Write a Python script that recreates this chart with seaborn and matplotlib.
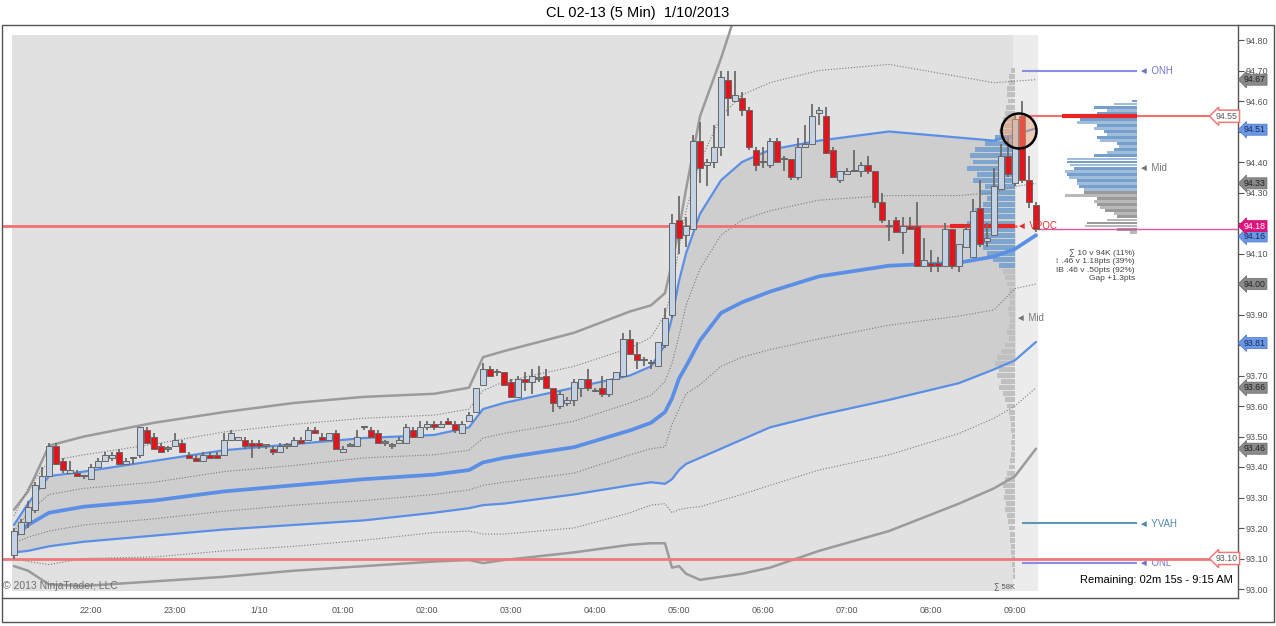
import numpy as np
import seaborn as sns
import matplotlib.pyplot as plt
from matplotlib.patches import Ellipse, Rectangle

sns.set_style('white')
plt.rcParams['font.family'] = ['Liberation Sans', 'DejaVu Sans']

W, H = 1276, 626

# --- time axis (5 min bars, bar 0 = 21:05) ---
hour_bars = [11, 23, 35, 47, 59, 71, 83, 95, 107, 119, 131, 143]
hour_labels = ['22:00', '23:00', '1/10', '01:00', '02:00', '03:00',
               '04:00', '05:00', '06:00', '07:00', '08:00', '09:00']

# --- OHLC ---
opens = [93.11, 93.18, 93.22, 93.26, 93.33, 93.37, 93.47, 93.42, 93.38, 93.38,
         93.37, 93.36, 93.40, 93.42, 93.43, 93.45, 93.41, 93.43, 93.44, 93.52,
         93.50, 93.47, 93.46, 93.47, 93.48, 93.44, 93.43, 93.42, 93.44, 93.44,
         93.44, 93.49, 93.49, 93.49, 93.48, 93.48, 93.47, 93.46, 93.45, 93.47,
         93.47, 93.49, 93.49, 93.52, 93.50, 93.49, 93.51, 93.45, 93.47, 93.47,
         93.53, 93.52, 93.51, 93.48, 93.47, 93.48, 93.48, 93.52, 93.50, 93.53,
         93.54, 93.53, 93.55, 93.54, 93.51, 93.55, 93.58, 93.67, 93.72, 93.71,
         93.71, 93.68, 93.63, 93.69, 93.68, 93.69, 93.70, 93.66, 93.60, 93.61,
         93.62, 93.66, 93.69, 93.65, 93.66, 93.64, 93.69, 93.70, 93.82, 93.77,
         93.75, 93.74, 93.73, 93.80, 93.90, 94.21, 94.16, 94.18, 94.47, 94.39,
         94.40, 94.45, 94.67, 94.60, 94.61, 94.57, 94.44, 94.40, 94.39, 94.47,
         94.41, 94.41, 94.35, 94.45, 94.46, 94.56, 94.55, 94.44, 94.34, 94.36,
         94.37, 94.37, 94.39, 94.37, 94.27, 94.19, 94.21, 94.17, 94.19, 94.19,
         94.06, 94.07, 94.07, 94.06, 94.18, 94.06, 94.12, 94.09, 94.25, 94.14,
         94.16, 94.31, 94.42, 94.33, 94.55, 94.34, 94.26]
highs = [93.20, 93.23, 93.29, 93.35, 93.40, 93.48, 93.48, 93.43, 93.42, 93.39,
         93.37, 93.41, 93.43, 93.45, 93.45, 93.46, 93.43, 93.43, 93.53, 93.53,
         93.51, 93.48, 93.47, 93.51, 93.49, 93.45, 93.44, 93.45, 93.45, 93.45,
         93.51, 93.52, 93.50, 93.50, 93.49, 93.49, 93.47, 93.47, 93.48, 93.48,
         93.50, 93.50, 93.53, 93.53, 93.51, 93.51, 93.52, 93.47, 93.48, 93.52,
         93.53, 93.53, 93.52, 93.49, 93.48, 93.50, 93.54, 93.53, 93.55, 93.55,
         93.55, 93.55, 93.56, 93.55, 93.55, 93.58, 93.66, 93.74, 93.73, 93.72,
         93.71, 93.69, 93.70, 93.71, 93.72, 93.73, 93.72, 93.66, 93.65, 93.63,
         93.69, 93.69, 93.72, 93.66, 93.70, 93.69, 93.71, 93.84, 93.85, 93.81,
         93.76, 93.75, 93.81, 93.92, 94.23, 94.29, 94.22, 94.49, 94.53, 94.41,
         94.52, 94.70, 94.70, 94.70, 94.63, 94.58, 94.45, 94.45, 94.48, 94.48,
         94.42, 94.41, 94.48, 94.52, 94.59, 94.58, 94.58, 94.45, 94.37, 94.38,
         94.44, 94.40, 94.42, 94.37, 94.30, 94.21, 94.22, 94.22, 94.22, 94.27,
         94.15, 94.11, 94.09, 94.20, 94.18, 94.13, 94.19, 94.28, 94.34, 94.20,
         94.38, 94.46, 94.48, 94.56, 94.60, 94.42, 94.27]
lows = [93.10, 93.18, 93.20, 93.25, 93.33, 93.37, 93.41, 93.38, 93.38, 93.37,
        93.36, 93.36, 93.40, 93.42, 93.42, 93.41, 93.41, 93.41, 93.43, 93.48,
        93.46, 93.45, 93.45, 93.47, 93.45, 93.43, 93.42, 93.42, 93.43, 93.43,
        93.44, 93.49, 93.49, 93.46, 93.43, 93.46, 93.46, 93.44, 93.45, 93.46,
        93.47, 93.48, 93.49, 93.51, 93.49, 93.49, 93.46, 93.45, 93.47, 93.47,
        93.52, 93.50, 93.48, 93.47, 93.46, 93.48, 93.48, 93.50, 93.50, 93.52,
        93.52, 93.53, 93.54, 93.51, 93.51, 93.55, 93.58, 93.67, 93.70, 93.70,
        93.67, 93.63, 93.63, 93.65, 93.64, 93.68, 93.66, 93.58, 93.59, 93.60,
        93.60, 93.63, 93.65, 93.65, 93.63, 93.63, 93.69, 93.70, 93.77, 93.72,
        93.73, 93.72, 93.73, 93.79, 93.89, 94.10, 94.12, 94.18, 94.33, 94.32,
        94.38, 94.42, 94.55, 94.60, 94.55, 94.44, 94.37, 94.38, 94.38, 94.40,
        94.37, 94.34, 94.34, 94.45, 94.46, 94.52, 94.43, 94.35, 94.33, 94.36,
        94.37, 94.35, 94.36, 94.25, 94.20, 94.14, 94.17, 94.10, 94.18, 94.06,
        94.06, 94.04, 94.04, 94.06, 94.05, 94.04, 94.12, 94.09, 94.12, 94.12,
        94.16, 94.31, 94.35, 94.32, 94.33, 94.25, 94.17]
closes = [93.19, 93.22, 93.27, 93.34, 93.37, 93.47, 93.41, 93.39, 93.39, 93.37,
          93.37, 93.40, 93.42, 93.44, 93.44, 93.41, 93.42, 93.43, 93.53, 93.48,
          93.46, 93.45, 93.46, 93.49, 93.45, 93.43, 93.42, 93.44, 93.43, 93.43,
          93.49, 93.51, 93.50, 93.47, 93.47, 93.47, 93.47, 93.45, 93.47, 93.47,
          93.49, 93.48, 93.52, 93.51, 93.49, 93.51, 93.46, 93.46, 93.47, 93.50,
          93.53, 93.50, 93.48, 93.48, 93.47, 93.49, 93.53, 93.50, 93.53, 93.54,
          93.53, 93.54, 93.54, 93.52, 93.54, 93.57, 93.66, 93.72, 93.70, 93.71,
          93.67, 93.63, 93.69, 93.68, 93.70, 93.69, 93.66, 93.61, 93.64, 93.62,
          93.68, 93.69, 93.66, 93.65, 93.64, 93.69, 93.71, 93.82, 93.77, 93.75,
          93.75, 93.74, 93.81, 93.89, 94.20, 94.15, 94.19, 94.47, 94.38, 94.40,
          94.45, 94.68, 94.61, 94.62, 94.57, 94.45, 94.39, 94.40, 94.47, 94.40,
          94.41, 94.35, 94.45, 94.46, 94.55, 94.57, 94.43, 94.35, 94.37, 94.37,
          94.37, 94.39, 94.37, 94.27, 94.21, 94.19, 94.17, 94.19, 94.18, 94.06,
          94.08, 94.06, 94.06, 94.18, 94.06, 94.13, 94.18, 94.24, 94.13, 94.15,
          94.32, 94.42, 94.36, 94.54, 94.34, 94.27, 94.18]

# --- VWAP and bands, read at these bars ---
knot_bars = [0, 2, 5, 10, 20, 30, 40, 50, 60, 65, 67, 70, 80, 88, 91, 93, 94,
             95, 96, 98, 101, 104, 108, 115, 125, 135, 140, 143, 146]
vwap = [93.17, 93.21, 93.25, 93.27, 93.29, 93.32, 93.34, 93.36, 93.375, 93.39,
        93.415, 93.43, 93.465, 93.52, 93.545, 93.58, 93.625, 93.69, 93.73, 93.815,
        93.905, 93.94, 93.975, 94.025, 94.06, 94.07, 94.09, 94.115, 94.16]
upper1 = [93.21, 93.28, 93.37, 93.385, 93.42, 93.455, 93.475, 93.495, 93.505, 93.53,
          93.59, 93.61, 93.66, 93.70, 93.73, 93.80, 93.89, 94.01, 94.10, 94.23,
          94.34, 94.40, 94.44, 94.47, 94.50, 94.48, 94.47, 94.49, 94.51]
lower1 = [93.12, 93.125, 93.14, 93.155, 93.175, 93.195, 93.21, 93.225, 93.25, 93.265,
          93.275, 93.28, 93.31, 93.34, 93.35, 93.345, 93.36, 93.39, 93.41, 93.43,
          93.46, 93.49, 93.53, 93.57, 93.62, 93.675, 93.72, 93.75, 93.81]
half_up = [93.19, 93.25, 93.31, 93.33, 93.35, 93.385, 93.405, 93.43, 93.44, 93.455,
           93.495, 93.51, 93.55, 93.61, 93.635, 93.68, 93.74, 93.83, 93.93, 94.05,
           94.16, 94.21, 94.24, 94.275, 94.29, 94.29, 94.30, 94.32, 94.33]
half_dn = [93.15, 93.17, 93.19, 93.21, 93.23, 93.255, 93.275, 93.29, 93.31, 93.325,
           93.34, 93.35, 93.38, 93.44, 93.46, 93.466, 93.54, 93.59, 93.64, 93.67,
           93.73, 93.76, 93.785, 93.82, 93.865, 93.895, 93.915, 93.985, 94.00]
outer_up = [93.24, 93.33, 93.42, 93.44, 93.475, 93.515, 93.54, 93.56, 93.57, 93.59,
            93.65, 93.68, 93.73, 93.79, 93.825, 93.90, 93.98, 94.12, 94.24, 94.40,
            94.55, 94.62, 94.66, 94.70, 94.72, 94.68, 94.66, 94.665, 94.67]
outer_dn = [93.10, 93.09, 93.08, 93.10, 93.105, 93.125, 93.14, 93.16, 93.185, 93.19,
            93.18, 93.18, 93.20, 93.25, 93.275, 93.28, 93.25, 93.26, 93.265, 93.27,
            93.29, 93.31, 93.34, 93.39, 93.44, 93.51, 93.56, 93.60, 93.66]
edge_up = [93.26, 93.32, 93.47, 93.50, 93.545, 93.58, 93.61, 93.63, 93.64, 93.66,
           93.76, 93.78, 93.84, 93.91, 93.93, 93.97, 94.07, 94.18, 94.31, 94.55,
           94.74, 94.95, 95.05, 95.10, 95.10, 95.05, 95.00, 94.95, 94.86]
edge_dn = [93.075, 93.06, 93.015, 93.01, 93.025, 93.04, 93.06, 93.075, 93.09, 93.095,
           93.085, 93.095, 93.12, 93.145, 93.15, 93.15, 93.07, 93.075, 93.05, 93.03,
           93.04, 93.05, 93.07, 93.125, 93.19, 93.28, 93.33, 93.37, 93.46]

# --- volume profiles ---
on_top = 94.70          # overnight profile, 2 tick rows from the top
on_vols = [4, 6, 6, 8, 8, 7, 9, 10, 12, 14,
           16, 20, 30, 40, 45, 42, 48, 38, 42, 30,
           34, 28, 32, 40, 44, 48, 42, 36, 40, 32,
           28, 22, 16, 12, 10, 8, 6, 6, 5, 7,
           6, 5, 6, 8, 6, 10, 14, 18, 20, 16,
           18, 14, 16, 12, 10, 8, 6, 5, 4, 4,
           3, 4, 3, 4, 5, 6, 8, 10, 12, 10,
           11, 9, 10, 8, 7, 6, 5, 5, 4, 4,
           3, 3, 2, 2]
on_va = (94.06, 94.48)
day_top = 94.60         # day session profile, 1 tick rows
day_vols = [5, 23, 43, 30, 40, 75, 57, 60, 40, 43,
            33, 30, 40, 37, 20, 18, 23, 30, 43, 70,
            70, 67, 63, 72, 70, 68, 60, 60, 58, 53,
            53, 72, 40, 43, 40, 37, 32, 23, 20, 30,
            50, 52, 20, 7]
day_va_low = 94.31

# --- reference levels ---
onh, onl, yvah = 94.70, 93.085, 93.215
on_vpoc, day_poc, prior_lvl = 94.19, 94.55, 93.10
on_mid, day_mid = 93.89, 94.38
stats = ['∑ 10 v 94K (11%)', '↕ .46 v 1.18pts (39%)',
         'IB .46 v .50pts (92%)', 'Gap +1.3pts']


# pixel -> data helpers for layout
def bx(px):
    return (px - 14) / 7.0


def py(pix):
    return 93.0 + (589 - pix) / 305.0


fig = plt.figure(figsize=(W / 100, H / 100), dpi=100)
ax = fig.add_axes([2 / W, 1 - 598 / H, (1238 - 2) / W, (598 - 25) / H])
ax.set_xlim(bx(2), bx(1238))
ax.set_ylim(py(598), py(25))

# session shading
ymn, ymx = (598 - 591) / 573, (598 - 35) / 573
ax.axvspan(bx(12), bx(1013), ymin=ymn, ymax=ymx, color='#e1e1e1', lw=0, zorder=0)
ax.axvspan(bx(1013), bx(1038), ymin=ymn, ymax=ymx, color='#ececec', lw=0, zorder=0)

kb = np.array(knot_bars)
m = kb <= 143
ax.fill_between(kb[m], np.array(lower1)[m], np.array(upper1)[m],
                color='#cecece', lw=0, zorder=1)

# overnight profile
on_prices = on_top - 0.02 * np.arange(len(on_vols))
on_w = np.array(on_vols) / 7.0
on_cols = ['#7ea5ce' if on_va[0] - 1e-6 <= p <= on_va[1] + 1e-6 else '#c0c0c0'
           for p in on_prices]
ax.barh(on_prices, on_w, left=bx(1015) - on_w, height=0.016,
        color=on_cols, lw=0, zorder=2)

# day profile
day_prices = day_top - 0.01 * np.arange(len(day_vols))
day_w = np.array(day_vols) / 7.0
day_cols = []
for k, p in enumerate(day_prices):
    if p >= day_va_low - 1e-6:
        day_cols.append('#76a0cb' if k % 2 == 0 else '#a0bedc')
    else:
        day_cols.append('#9a9a9a' if k % 2 == 0 else '#b9b9b9')
ax.barh(day_prices, day_w, left=bx(1137) - day_w, height=0.0095,
        color=day_cols, lw=0, zorder=2)

# bands
dot = (0, (1, 1.6))
for vals, col, lw, ls in [(edge_up, '#9b9b9b', 1.8, '-'), (edge_dn, '#9b9b9b', 1.8, '-'),
                          (outer_up, '#7a7a7a', 0.8, dot), (outer_dn, '#7a7a7a', 0.8, dot),
                          (half_up, '#7a7a7a', 0.8, dot), (half_dn, '#7a7a7a', 0.8, dot),
                          (upper1, '#5b8fe6', 1.6, '-'), (lower1, '#5b8fe6', 1.6, '-'),
                          (vwap, '#5b8fe6', 2.7, '-')]:
    sns.lineplot(x=knot_bars, y=vals, ax=ax, color=col, lw=lw, linestyle=ls, zorder=3)

# horizontal levels
x0 = bx(2)
ax.hlines(on_vpoc, x0, bx(1017), color='#f07070', lw=2, zorder=3.5)
ax.hlines(on_vpoc, bx(950), bx(1015), color='#e82424', lw=3, zorder=3.6)
ax.hlines(prior_lvl, x0, bx(1212), color='#f07878', lw=2, zorder=3.5)
ax.hlines(day_poc, bx(1028), bx(1212), color='#f07070', lw=1.5, zorder=3.5)
ax.hlines(day_poc, bx(1062), bx(1137), color='#e82424', lw=3, zorder=3.6)
ax.hlines(closes[-1], bx(1037), bx(1238), color='#e0559f', lw=1, zorder=3.5)
ax.hlines([onh, onl], bx(1022), bx(1137), color='#8c8ce6', lw=1.5, zorder=3.5)
ax.hlines(yvah, bx(1022), bx(1137), color='#5f97b5', lw=1.5, zorder=3.5)

# candles
bars = np.arange(len(closes))
o, h, l, c = map(np.array, (opens, highs, lows, closes))
face = np.where(c > o, '#c3d3e5', np.where(c < o, '#e3141b', '#808080'))
ax.vlines(bars, l, h, color='#6b6b6b', lw=1.3, zorder=4)
ax.bar(bars, np.maximum(np.abs(c - o), 0.004), bottom=np.minimum(o, c), width=0.72,
       color=face, edgecolor='#666666', linewidth=0.7, zorder=5)

# highlight circle
ax.add_patch(Ellipse((bx(1019), py(131)), 35 / 7.0, 35 / 305.0,
                     fc=(0.93, 0.62, 0.45, 0.45), ec='black', lw=1.8, zorder=6))

# labels next to levels
ax.text(bx(1017), on_vpoc, '◄ VPOC', color='#e23030', fontsize=7, va='center', zorder=7)
ax.text(bx(1139), onh, '◄ ONH', color='#7373c9', fontsize=7, va='center')
ax.text(bx(1139), onl, '◄ ONL', color='#7373c9', fontsize=7, va='center')
ax.text(bx(1139), yvah, '◄ YVAH', color='#4f8aab', fontsize=7, va='center')
ax.text(bx(1139), day_mid, '◄ Mid', color='#777777', fontsize=7, va='center')
ax.text(bx(1016), on_mid, '◄ Mid', color='#777777', fontsize=7, va='center')
ax.text(bx(1135), py(249), '\n'.join(stats), ha='right', va='top', fontsize=6,
        color='#444444', linespacing=1.3)
ax.text(bx(3), py(586), '© 2013 NinjaTrader, LLC', fontsize=7.5, color='#707070',
        va='center')
ax.text(bx(1015), py(587), '∑ 58K', fontsize=5.5, color='#555555', ha='right', va='center')
ax.text(bx(1233), py(580), 'Remaining: 02m 15s - 9:15 AM', fontsize=8, color='black',
        ha='right', va='center')

# price markers on the axis
gray_marks = [outer_up[-1], half_up[-1], half_dn[-1], outer_dn[-1], edge_dn[-1]]
blue_marks = [upper1[-1], vwap[-1], lower1[-1]]
for v in [day_poc, prior_lvl]:
    ax.text(bx(1227), v, f'{v:.2f}', fontsize=6.3, color='#555555', ha='center',
            va='center', zorder=8, clip_on=False,
            bbox=dict(boxstyle='larrow,pad=0.18', fc='white', ec='#f07878', lw=1.1))
for v in gray_marks:
    ax.text(bx(1244), v, f'{v:.2f}', fontsize=6.3, color='#222222', va='center',
            zorder=8, clip_on=False,
            bbox=dict(boxstyle='larrow,pad=0.12', fc='#8a8a8a', ec='#666666', lw=0.5))
for v in blue_marks:
    ax.text(bx(1244), v - 0.004, f'{v:.2f}', fontsize=6.3, color='#1a2a55', va='center',
            zorder=8, clip_on=False,
            bbox=dict(boxstyle='larrow,pad=0.12', fc='#6a97e6', ec='#4a72c0', lw=0.5))
ax.text(bx(1244), closes[-1] + 0.01, f'{closes[-1]:.2f}', fontsize=6.3, color='white',
        va='center', zorder=9, clip_on=False,
        bbox=dict(boxstyle='larrow,pad=0.12', fc='#e0147f', ec='#c01070', lw=0.5))

# axes: tick labels hidden where a marker box sits on top of them
yt = np.round(np.arange(93.0, 94.81, 0.1), 2)
covered = gray_marks + blue_marks + [closes[-1]]
ylabels = ['' if min(abs(v - q) for q in covered) < 0.025 else f'{v:.2f}' for v in yt]
ax.yaxis.tick_right()
ax.set_yticks(yt, ylabels)
ax.set_xticks(hour_bars, hour_labels)
ax.tick_params(axis='both', direction='out', length=4, width=0.8, color='#555555',
               labelcolor='#555555', labelsize=6.5, pad=1.5)
for s in ['left', 'top']:
    ax.spines[s].set_visible(False)
for s in ['right', 'bottom']:
    ax.spines[s].set_color('#555555')
    ax.spines[s].set_linewidth(1)

fig.add_artist(Rectangle((2 / W, 1 - 622 / H), (1274 - 2) / W, (622 - 25) / H,
                         transform=fig.transFigure, fill=False, ec='#555555', lw=1))
fig.text(0.5, 1 - 13 / H, 'CL 02-13 (5 Min)  1/10/2013', ha='center', va='center',
         fontsize=10.5, color='black')

fig.savefig('out.png', dpi=100)
